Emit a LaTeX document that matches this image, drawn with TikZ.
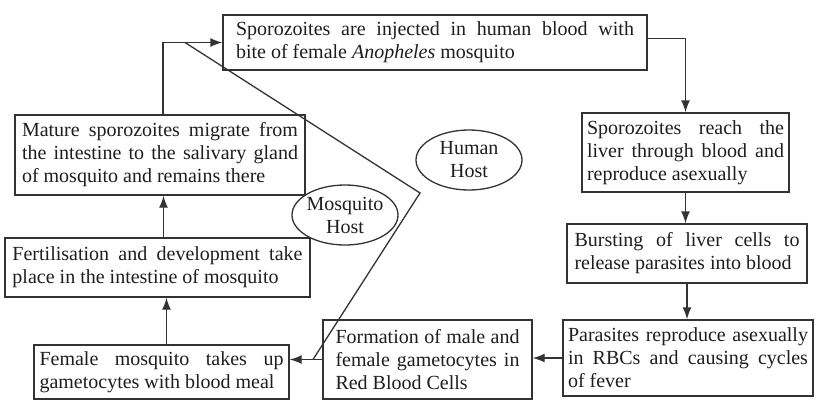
\documentclass[tikz,border=0pt]{standalone}
\usepackage{fontspec}
\setmainfont{Liberation Serif}
\usetikzlibrary{arrows.meta,shapes.geometric}
\definecolor{linec}{HTML}{333333}
\definecolor{txtc}{HTML}{1E1E1E}
\newcommand{\sjust}[2]{\makebox[#1pt][s]{#2}}
\newcommand{\sleft}[2]{\makebox[#1pt][l]{#2}}
\begin{document}
\begin{tikzpicture}[x=1pt,y=-1pt,
  box/.style={draw=linec, line width=1.4pt, rectangle, inner sep=0pt, align=left,
    text=txtc, font=\fontsize{20}{23}\selectfont},
  hostell/.style={draw=linec, line width=1.3pt, ellipse, inner sep=0pt,
    minimum width=106pt, minimum height=60pt, text=txtc,
    font=\fontsize{20}{23}\selectfont},
  arr/.style={draw=linec, line width=1.4pt, -{Latex[length=12pt,width=9pt]}},
  ln/.style={draw=linec, line width=1.3pt}]
\useasboundingbox[fill=white] (0,0) rectangle (816,400);

\node[box, minimum width=424pt, minimum height=55pt] (top) at (435,42.5)
  {\sjust{398}{Sporozoites are injected in human blood with}\\
   \sleft{398}{bite of female \textit{Anopheles} mosquito}};
\node[box, minimum width=207pt, minimum height=79pt] (reach) at (685.5,152.5)
  {\sjust{197}{Sporozoites reach the}\\
   \sjust{197}{liver through blood and}\\
   \sleft{197}{reproduce asexually}};
\node[box, minimum width=240pt, minimum height=59pt] (burst) at (687,253.5)
  {\sjust{225}{Bursting of liver cells to}\\
   \sleft{225}{release parasites into blood}};
\node[box, minimum width=250pt, minimum height=76pt] (para) at (688,358)
  {\sjust{240}{Parasites reproduce asexually}\\
   \sjust{240}{in RBCs and causing cycles}\\
   \sleft{240}{of fever}};
\node[box, minimum width=209pt, minimum height=79pt] (form) at (427.5,359.5)
  {\sjust{184}{Formation of male and}\\
   \sjust{184}{female gametocytes in}\\
   \sleft{184}{Red Blood Cells}};
\node[box, minimum width=255pt, minimum height=54pt] (female) at (161.5,372)
  {\sjust{244}{Female mosquito takes up}\\
   \sleft{244}{gametocytes with blood meal}};
\node[box, minimum width=305pt, minimum height=59pt] (fert) at (157.5,267.5)
  {\sjust{290}{Fertilisation and development take}\\
   \sleft{290}{place in the intestine of mosquito}};
\node[box, minimum width=290pt, minimum height=80pt] (mature) at (160,155)
  {\sjust{276}{Mature sporozoites migrate from}\\
   \sjust{276}{the intestine to the salivary gland}\\
   \sleft{276}{of mosquito and remains there}};

\node[hostell, label={[align=center, text=txtc, font=\fontsize{20}{23}\selectfont]center:{Human\\Host}}] (human) at (469,160) {};
\node[hostell, label={[align=center, text=txtc, font=\fontsize{20}{23}\selectfont]center:{Mosquito\\Host}}] (mhost) at (345,215) {};

\draw[arr] ([xshift=3pt]mature.north) |- (top.west);
\draw[arr] ([yshift=4pt]top.east) -| (reach.north);
\draw[arr] (reach.south) -- (reach.south |- burst.north);
\draw[arr] (burst.south) -- (burst.south |- para.north);
\draw[arr] (para.west) -- (para.west -| form.east);
\draw[arr] (form.west) -- (form.west -| female.east);
\draw[arr] ([xshift=5pt]female.north) -- ([xshift=5pt]female.north |- fert.south);
\draw[arr] ([xshift=6pt]fert.north) -- ([xshift=6pt]fert.north |- mature.south);

\coordinate (d0) at (185,42.5);
\coordinate (d1) at (420,193);
\coordinate (d2) at (313,359.5);
\draw[ln] (d0) -- (d1) -- (d2);
\end{tikzpicture}
\end{document}
